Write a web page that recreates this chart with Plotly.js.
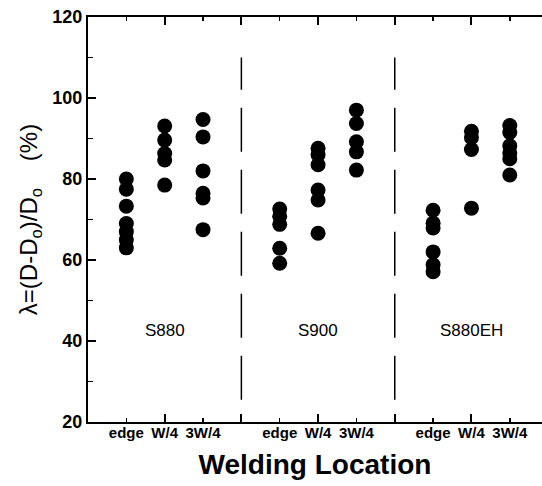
<!DOCTYPE html>
<html>
<head>
<meta charset="utf-8">
<script src="https://cdn.plot.ly/plotly-3.0.1.min.js"></script>
<style>html,body{margin:0;padding:0;background:#fff;}</style>
</head>
<body>
<div id="chart" style="width:542px;height:486px;"></div>
<script>
// Location labels and their x positions
const locationLabels = ["edge", "W/4", "3W/4", "edge", "W/4", "3W/4", "edge", "W/4", "3W/4"];
const locationPos = [1, 2, 3, 5, 6, 7, 9, 10, 11];
// Steel groups
const groups = ["S880", "S900", "S880EH"];
const groupPos = [2, 6, 10];
const separators = [4, 8];

// Measured lambda values (%) per group and location
const s880_edge = [80, 77.5, 73.3, 69, 67, 65, 63];
const s880_w4 = [93.1, 89.6, 86.3, 84.7, 78.5];
const s880_3w4 = [94.7, 90.4, 82, 76.5, 75.3, 67.5];
const s900_edge = [72.6, 70.8, 68.8, 62.9, 59.2];
const s900_w4 = [87.6, 86, 83.5, 77.3, 74.8, 66.6];
const s900_3w4 = [97, 93.7, 89.2, 86.7, 82.2];
const s880eh_edge = [72.3, 69.1, 67.9, 62, 58.8, 57.1];
const s880eh_w4 = [91.8, 90.2, 87.3, 72.8];
const s880eh_3w4 = [93.2, 91.5, 88.2, 86.4, 85, 81];

const series = [s880_edge, s880_w4, s880_3w4, s900_edge, s900_w4, s900_3w4, s880eh_edge, s880eh_w4, s880eh_3w4];

const xs = [], ys = [];
series.forEach((arr, i) => arr.forEach(v => { xs.push(locationPos[i]); ys.push(v); }));

const font = "Liberation Sans, Arial, sans-serif";

const trace = {
  x: xs, y: ys, type: "scatter", mode: "markers",
  marker: {color: "#000", size: 15, line: {width: 0}},
  hoverinfo: "skip", showlegend: false
};

const shapes = separators.map(s => ({
  type: "line", xref: "x", yref: "y", x0: s, x1: s, y0: 25.5, y1: 110,
  line: {color: "#000", width: 1.5, dash: "44px,18px"}
}));

const annotations = groups.map((g, i) => ({
  x: groupPos[i], y: 42.7, xref: "x", yref: "y", text: g, showarrow: false,
  font: {family: font, size: 17, color: "#000"}
}));

const layout = {
  width: 542, height: 486,
  margin: {l: 88, r: 0, t: 17, b: 64},
  paper_bgcolor: "#fff", plot_bgcolor: "#fff",
  font: {family: font, color: "#000"},
  xaxis: {
    range: [0, 11.84], showgrid: false, zeroline: false,
    showline: true, linecolor: "#000", linewidth: 2, mirror: "ticks",
    tickmode: "array", tickvals: [0, 2, 4, 6, 8, 10], ticks: "inside", ticklen: 8, tickwidth: 2, tickcolor: "#000",
    showticklabels: false,
    minor: {tickmode: "linear", tick0: 0, dtick: 1, ticks: "inside", ticklen: 4, tickwidth: 1.5, tickcolor: "#000"}
  },
  xaxis2: {
    overlaying: "x", anchor: "y", side: "bottom", range: [0, 11.84],
    showgrid: false, zeroline: false, showline: false, ticks: "",
    tickmode: "array", tickvals: locationPos, ticktext: locationLabels,
    tickfont: {family: font, size: 15, color: "#000", weight: "bold"},
    title: {text: "Welding Location", font: {family: font, size: 28, color: "#000", weight: "bold"}, standoff: 14}
  },
  yaxis: {
    range: [20, 120], showgrid: false, zeroline: false,
    showline: true, linecolor: "#000", linewidth: 2,
    tickmode: "linear", tick0: 20, dtick: 20, ticks: "inside", ticklen: 8, tickwidth: 2, tickcolor: "#000",
    tickfont: {family: font, size: 18, color: "#000", weight: "bold"},
    minor: {tickmode: "linear", dtick: 10, ticks: "inside", ticklen: 5, tickwidth: 1.5, tickcolor: "#000"},
    title: {text: "\u03bb=(D-D<sub>o</sub>)/D<sub>o</sub>\u00a0\u00a0\u00a0\u00a0(%)", font: {family: font, size: 24, color: "#000"}, standoff: 8}
  },
  shapes: shapes,
  annotations: annotations
};

// empty trace so the label axis (xaxis2) is drawn
const dummy = {x: [null], y: [null], xaxis: "x2", yaxis: "y", type: "scatter", mode: "markers", showlegend: false, hoverinfo: "skip"};

Plotly.newPlot("chart", [trace, dummy], layout, {displayModeBar: false, staticPlot: true});
</script>
</body>
</html>
